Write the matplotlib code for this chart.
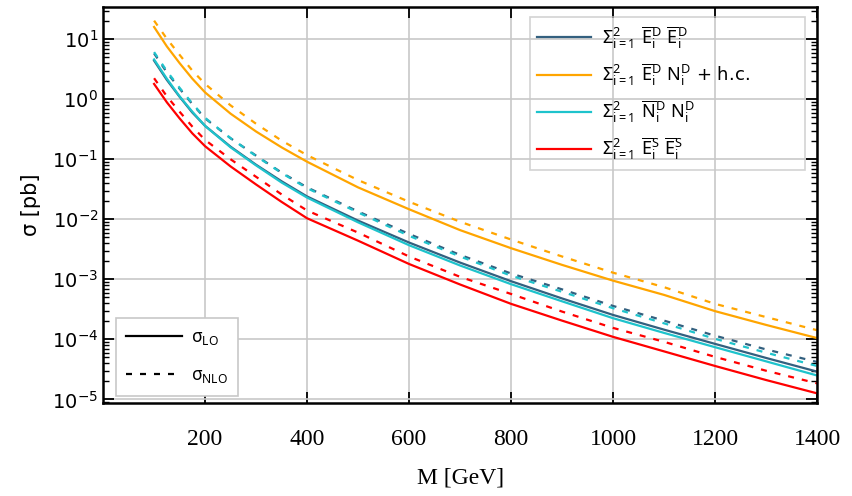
import numpy as np
import matplotlib
matplotlib.use("Agg")
import matplotlib.pyplot as plt
from matplotlib.lines import Line2D

plt.rcParams['mathtext.fontset'] = 'custom'
plt.rcParams['mathtext.rm'] = 'Noto Sans'
plt.rcParams['mathtext.it'] = 'Noto Sans'

# masses in GeV
M = [100, 125, 150, 175, 200, 250, 300, 350, 400, 500, 600, 700, 800, 900, 1000, 1100, 1200, 1300, 1400]

# cross sections in pb
ee_lo = [4.4, 2.1, 1.1, 0.60, 0.36, 0.162, 0.081, 0.043, 0.024, 0.0095, 0.0041, 1.9e-3, 9.3e-4, 4.8e-4, 2.55e-4, 1.45e-4, 8.4e-5, 4.9e-5, 2.9e-5]
ee_nlo = [5.8, 2.8, 1.5, 0.83, 0.48, 0.224, 0.115, 0.060, 0.034, 0.0135, 0.0057, 2.55e-3, 1.25e-3, 6.8e-4, 3.6e-4, 2.05e-4, 1.15e-4, 6.8e-5, 4.2e-5]
en_lo = [16, 7.6, 4.0, 2.2, 1.3, 0.575, 0.29, 0.158, 0.091, 0.034, 0.0147, 6.6e-3, 3.3e-3, 1.74e-3, 9.5e-4, 5.5e-4, 2.95e-4, 1.74e-4, 1.05e-4]
en_nlo = [20.4, 10.2, 5.5, 3.0, 1.8, 0.79, 0.39, 0.205, 0.117, 0.045, 0.0196, 9.1e-3, 4.6e-3, 2.4e-3, 1.29e-3, 7.4e-4, 3.9e-4, 2.35e-4, 1.42e-4]
nn_lo = [4.6, 2.2, 1.12, 0.62, 0.36, 0.158, 0.079, 0.041, 0.023, 0.0089, 0.0037, 1.7e-3, 8.3e-4, 4.3e-4, 2.25e-4, 1.28e-4, 7.4e-5, 4.3e-5, 2.5e-5]
nn_nlo = [6.1, 2.95, 1.55, 0.85, 0.49, 0.224, 0.113, 0.059, 0.033, 0.013, 0.0053, 2.4e-3, 1.15e-3, 6.2e-4, 3.3e-4, 1.85e-4, 1.02e-4, 6.0e-5, 3.6e-5]
ss_lo = [1.8, 0.89, 0.48, 0.27, 0.165, 0.076, 0.038, 0.0195, 0.0104, 0.0044, 0.0018, 8.2e-4, 3.9e-4, 2.05e-4, 1.1e-4, 6.3e-5, 3.6e-5, 2.1e-5, 1.26e-5]
ss_nlo = [2.24, 1.12, 0.62, 0.35, 0.21, 0.10, 0.051, 0.026, 0.014, 0.006, 0.0024, 1.1e-3, 5.7e-4, 2.9e-4, 1.55e-4, 9.1e-5, 5.1e-5, 3.0e-5, 1.85e-5]

labels = [r"$\Sigma^2_{i=1}$ $\overline{\mathrm{E}}^{\mathrm{D}}_{\mathrm{i}}$ $\overline{\mathrm{E}}^{\mathrm{D}}_{\mathrm{i}}$",
          r"$\Sigma^2_{i=1}$ $\overline{\mathrm{E}}^{\mathrm{D}}_{\mathrm{i}}$ $\mathrm{N}^{\mathrm{D}}_{\mathrm{i}}$ + h.c.",
          r"$\Sigma^2_{i=1}$ $\overline{\mathrm{N}}^{\mathrm{D}}_{\mathrm{i}}$ $\mathrm{N}^{\mathrm{D}}_{\mathrm{i}}$",
          r"$\Sigma^2_{i=1}$ $\overline{\mathrm{E}}^{\mathrm{S}}_{\mathrm{i}}$ $\overline{\mathrm{E}}^{\mathrm{S}}_{\mathrm{i}}$"]
colors = ["#33607f", "#ffa500", "#1ec3cc", "#ff0000"]
lo = [ee_lo, en_lo, nn_lo, ss_lo]
nlo = [ee_nlo, en_nlo, nn_nlo, ss_nlo]
dash = (0, (2.7, 3.6))

fig = plt.figure(figsize=(8.52, 4.96), dpi=100)
ax = fig.add_axes([0.121, 0.1875, 0.838, 0.7985])

for y1, y2, c in zip(lo, nlo, colors):
    ax.plot(M, y1, color=c, lw=1.6)
    ax.plot(M, y2, color=c, lw=1.6, ls=dash)

ax.set_yscale('log')
ax.set_xlim(0, 1400)
ax.set_ylim(8.7e-6, 34.5)
ax.set_xticks([200, 400, 600, 800, 1000, 1200, 1400])
ax.set_yticks([1e-5, 1e-4, 1e-3, 1e-2, 1e-1, 1, 10])
ax.grid(True, which='major', color='#c8c8c8', lw=1.2)
ax.set_axisbelow(True)

ax.tick_params(which='both', direction='in', top=True, right=True)
ax.tick_params(which='major', length=8, width=1.3, labelsize=14)
ax.tick_params(which='minor', length=4, width=1.0)
for lab in ax.get_xticklabels():
    lab.set_fontfamily('Liberation Serif')
    lab.set_fontsize(17)
ax.tick_params(axis='x', pad=19)
for s in ax.spines.values():
    s.set_linewidth(1.8)

ax.set_xlabel("M [GeV]", fontfamily='Liberation Serif', fontsize=17, labelpad=12)
ax.set_ylabel(r"σ [pb]", fontsize=15, labelpad=8)

handles = [Line2D([], [], color=c, lw=1.6) for c in colors]
leg1 = ax.legend(handles, labels, loc='upper left', bbox_to_anchor=(0.598, 0.609, 0.385, 0.366),
                 mode='expand', fontsize=13, handlelength=3.0, handletextpad=0.6,
                 fancybox=False, facecolor='none', edgecolor='#c8c8c8',
                 labelspacing=0.6, borderpad=0.4, borderaxespad=0)
leg1.get_frame().set_linewidth(1.2)
ax.add_artist(leg1)

h2 = [Line2D([], [], color='k', lw=1.6), Line2D([], [], color='k', lw=1.6, ls=dash)]
leg2 = ax.legend(h2, [r"$\sigma_{\mathrm{LO}}$", r"$\sigma_{\mathrm{NLO}}$"], loc='lower left',
                 bbox_to_anchor=(0.018, 0.018), fontsize=12.5, handlelength=3.2, handletextpad=0.5,
                 fancybox=False, facecolor='white', framealpha=1, edgecolor='#c8c8c8',
                 labelspacing=1.1, borderpad=0.6, borderaxespad=0)
leg2.get_frame().set_linewidth(1.2)

fig.savefig("out.png", dpi=100)
